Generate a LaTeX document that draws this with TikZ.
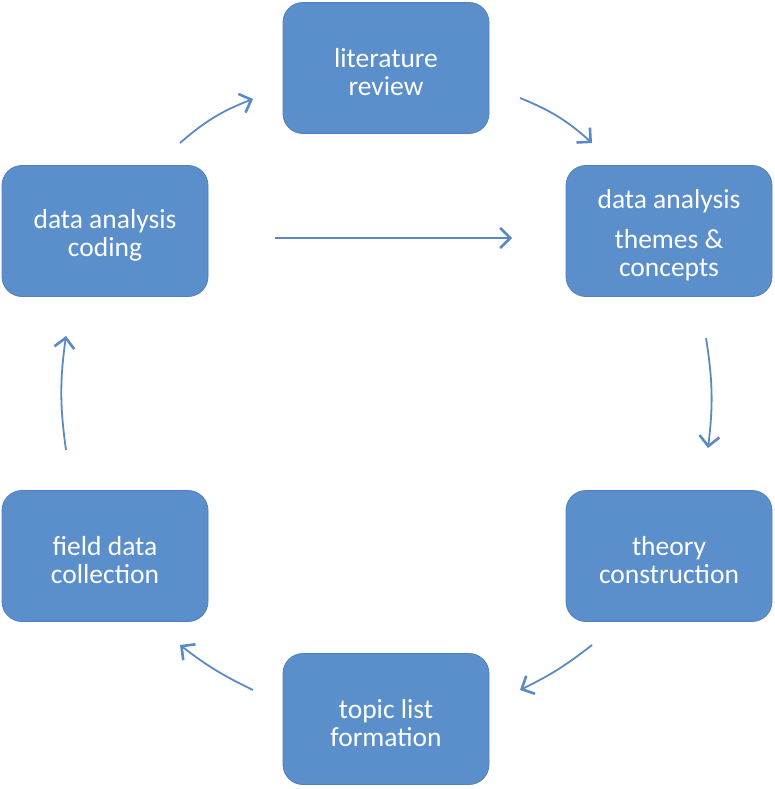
\documentclass[tikz,border=0pt]{standalone}
\usepackage{fontspec}
\setmainfont{Carlito}
\usetikzlibrary{arrows.meta}
\definecolor{boxfill}{HTML}{5B8FCB}
\definecolor{boxline}{HTML}{4F80BD}
\definecolor{arr}{HTML}{5A8AC6}
\begin{document}
\begin{tikzpicture}[x=1pt,y=-1pt,
  stepbox/.style={draw=boxline,line width=0.8pt,fill=boxfill,rounded corners=20pt,
    minimum width=206pt,minimum height=131pt,inner sep=0pt},
  boxlabel/.style={text=white,align=center,font=\fontsize{27.5}{28}\selectfont,inner sep=0pt},
  flow/.style={draw=arr,line width=1.8pt,-{Straight Barb[length=10pt,width=20pt,line width=2.6pt]}}]
\useasboundingbox (0,0) rectangle (774,789);
\node[stepbox] (lit) at (386,68) {};
\node[stepbox] (them) at (669,231) {};
\node[stepbox] (theo) at (669,556) {};
\node[stepbox] (topic) at (386,719) {};
\node[stepbox] (field) at (105,556) {};
\node[stepbox] (code) at (105,231) {};
\node[boxlabel] (litT) at ([yshift=-4pt]lit.center) {literature\\review};
\node[boxlabel] (themT) at ([yshift=-4pt]them.center) {data analysis\\[12pt]themes \&\\concepts};
\node[boxlabel] (theoT) at ([yshift=-4pt]theo.center) {theory\\construction};
\node[boxlabel] (topicT) at ([yshift=-4pt]topic.center) {topic list\\formation};
\node[boxlabel] (fieldT) at ([yshift=-4pt]field.center) {field data\\collection};
\node[boxlabel] (codeT) at ([yshift=-4pt]code.center) {data analysis\\coding};
\coordinate (a1) at (180,143); \coordinate (b1) at (253,99);
\coordinate (a2) at (520,98); \coordinate (b2) at (592,143);
\coordinate (a3) at (706,338); \coordinate (b3) at (708,448);
\coordinate (a4) at (592,645); \coordinate (b4) at (520,690);
\coordinate (a5) at (253,690); \coordinate (b5) at (180,645);
\coordinate (a6) at (66,450); \coordinate (b6) at (66,336);
\coordinate (a7) at (275,238); \coordinate (b7) at (512,238);
\draw[flow] (a1) to[bend left=10] (b1);
\draw[flow] (a2) to[bend left=10] (b2);
\draw[flow] (a3) to[bend left=8] (b3);
\draw[flow] (a4) to[bend left=6] (b4);
\draw[flow] (a5) to[bend left=6] (b5);
\draw[flow] (a6) to[bend left=8] (b6);
\draw[flow] (a7) -- (b7);
\end{tikzpicture}
\end{document}
